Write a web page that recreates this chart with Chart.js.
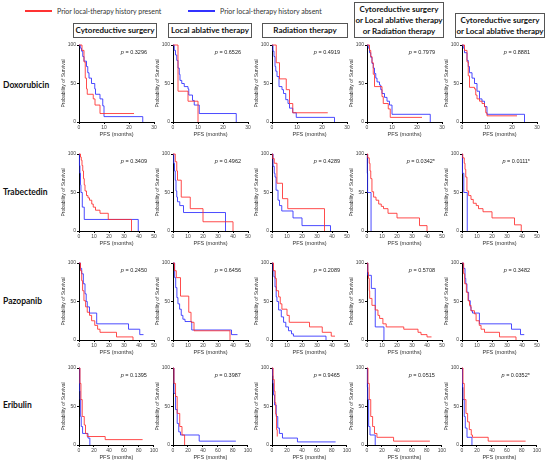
<!DOCTYPE html>
<html>
<head>
<meta charset="utf-8">
<script src="https://cdn.jsdelivr.net/npm/chart.js@4.4.1/dist/chart.umd.min.js"></script>
<style>
  body { margin: 0; background: #fff; }
  #wrap { position: relative; width: 550px; height: 462px; overflow: hidden; font-family: Lato, "Open Sans", sans-serif; color: #111; }
  .box { position: absolute; border: 1px solid #555; box-sizing: border-box; font-weight: 700; font-size: 8px; line-height: 11px;
         text-align: center; display: flex; align-items: center; justify-content: center; }
  .rowlab { position: absolute; left: 3px; font-weight: 700; font-size: 8.5px; line-height: 12px; }
  .leg { position: absolute; top: 6px; font-size: 7px; line-height: 10px; color: #333; }
  .legline { position: absolute; top: 10px; width: 27px; height: 1.5px; }
  canvas { position: absolute; }
</style>
</head>
<body>
<div id="wrap">
  <div class="legline" style="left:25px;background:#f33"></div>
  <div class="leg" style="left:57px">Prior local-therapy history present</div>
  <div class="legline" style="left:188px;background:#33f"></div>
  <div class="leg" style="left:220px">Prior local-therapy history absent</div>
</div>

<script>
// ********** DATA ***********
const drugs = ['Doxorubicin', 'Trabectedin', 'Pazopanib', 'Eribulin'];
const therapies = ['Cytoreductive surgery', 'Local ablative therapy', 'Radiation therapy',
  'Cytoreductive surgery<br>or Local ablative therapy<br>or Radiation therapy',
  'Cytoreductive surgery<br>or Local ablative therapy'];
const xMax = [30, 50, 50, 100];
const xStep = [10, 10, 10, 20];
const yTicks = [0, 50, 100];

const pDox = ['0.3296', '0.6526', '0.4919', '0.7979', '0.8881'];
const pTrb = ['0.3409', '0.4962', '0.4289', '0.0342*', '0.0111*'];
const pPaz = ['0.2450', '0.6456', '0.2089', '0.5708', '0.3482'];
const pEri = ['0.1395', '0.3987', '0.9465', '0.0515', '0.0352*'];

// [months, % surviving] — P = history present (red), A = absent (blue)
const doxCytoP = [[0,100],[1.2,93],[2,78],[2.5,57],[3,43],[3.3,36],[5.7,30],[6.4,22],[8.4,11],[22,11]];
const doxCytoA = [[0,100],[0.5,96],[1,92],[1.5,85],[2,79],[3,72],[3.5,64],[4,57],[5,50],[6.3,43],[6.6,36],[8.4,30],[9.5,21],[10,7],[25.5,0]];
const doxAblP = [[0,100],[2,40],[6,27],[10,0]];
const doxAblA = [[0,100],[0.5,93],[1,87],[1.5,80],[2,70],[2.5,62],[2.8,54],[3.5,50],[4.5,46],[6,43],[6.3,35],[7.8,28],[8.5,22],[10.5,11],[25.3,0]];
const doxRadP = [[0,100],[1.7,77],[3,56],[5.7,42],[7,24],[8.3,12],[22.3,12]];
const doxRadA = [[0,100],[0.4,92],[0.8,85],[1.2,72],[1.5,66],[2,59],[2.8,46],[4,42],[4.6,37],[5.5,29],[6.4,24],[7,18],[8.3,12],[9.7,6],[25,0]];
const doxCarP = [[0,100],[1,93],[1.5,85],[2,77],[2.5,62],[3,46],[6,33],[6.5,24],[8.5,17],[9.3,6],[22,6]];
const doxCarA = [[0,100],[0.5,96],[1,90],[1.5,84],[2,76],[2.5,70],[3,63],[3.5,57],[4,52],[5,48],[5.5,42],[6,37],[7,32],[8,27],[9,22],[10,10],[25.3,0]];
const doxCaP = [[0,100],[1,93],[2,78],[2.5,60],[3,45],[5,43],[5.5,35],[6,30],[7,27],[8,24],[9,20],[9.5,12],[10,8],[22,8]];
const doxCaA = [[0,100],[0.5,96],[1,90],[2,80],[2.5,72],[3,64],[4,57],[5,50],[6,40],[7,30],[8,27],[9,20],[10,10],[25,0]];

const trbCytoP = [[0,100],[1,96],[1.5,92],[2,85],[2.5,78],[3,68],[3.5,60],[4,52],[5,46],[6,43],[7,40],[8.5,35],[9.5,31],[11,27],[14,23],[19.5,15],[35,0]];
const trbCytoA = [[0,100],[0.3,85],[0.6,75],[1,60],[1.3,50],[2.2,31],[3.5,15],[39.5,0]];
const trbAblP = [[0,100],[1.5,90],[2.5,78],[3,66],[5.5,44],[11.5,29],[20,12],[40,0]];
const trbAblA = [[0,100],[0.5,88],[1,78],[1.5,66],[2,52],[2.5,44],[3,38],[4.5,33],[7,24],[35,0]];
const trbRadP = [[0,100],[0.5,94],[1.5,88],[3.3,62],[7,42],[10.5,29],[35,0]];
const trbRadA = [[0,100],[0.7,84],[1.5,75],[2,70],[2.7,53],[4,40],[5,33],[6.5,26],[14,17],[20,7],[39,0]];
const trbCarP = [[0,100],[0.5,95],[1.5,88],[2,78],[2.5,68],[3.3,51],[4.4,44],[6,40],[7.8,35],[9.5,32],[11,29],[14,23],[20,17],[35,7],[40,0]];
const trbCarA = [[0,100],[0.2,75],[0.4,50],[2.7,0]];
const trbCaP = [[0,100],[0.5,95],[1.5,88],[2,80],[2.5,70],[3.3,52],[4.4,46],[6,41],[7.5,36],[9.5,33],[11,29],[14,25],[20,17],[35,8],[39.5,0]];
const trbCaA = [[0,100],[0.3,75],[1.2,50],[3.5,0]];

const pazCytoP = [[0,100],[1,90],[1.8,77],[2.4,64],[3.3,51],[4.4,43],[5.5,36],[7,32],[8.4,25],[10.5,19],[12.4,14],[14,10],[25,4],[36,0]];
const pazCytoA = [[0,100],[1,93],[1.8,86],[2.9,73],[4,60],[4.8,50],[5.5,43],[7,35],[11.8,21],[33,14],[40.5,7],[43,7]];
const pazAblP = [[0,100],[1,90],[2.2,81],[5,57],[10.5,36],[12,23],[14,12],[38,0]];
const pazAblA = [[0,100],[1.1,81],[1.8,68],[2.6,55],[3.3,47],[4.4,40],[5.5,32],[6.6,27],[8,24],[12.5,13],[39,7],[43,7]];
const pazRadP = [[0,100],[1,90],[2.2,80],[2.9,64],[4.4,56],[5.5,47],[6.6,40],[10,32],[11.5,23],[25,17],[33.5,10],[39.5,5],[42,5]];
const pazRadA = [[0,100],[0.7,90],[1.3,82],[2,69],[2.8,56],[3.3,50],[4.4,39],[6.2,30],[7.7,23],[9.2,17],[11,12],[13,8],[14.3,5],[36,0]];
const pazCarP = [[0,100],[0.6,88],[1,80],[1.5,64],[1.8,54],[3.3,45],[5.5,39],[7.3,32],[8.4,28],[10.6,21],[12.8,17],[24.5,14],[34,10],[36,7],[40,4],[43,4]];
const pazCarA = [[0,100],[0.5,84],[2.9,67],[5.5,17],[11.3,0]];
const pazCaP = [[0,100],[1.1,86],[1.8,73],[2.9,62],[4,51],[5,45],[6,38],[8.3,34],[9.4,25],[11.5,19],[12.7,14],[15,10],[25,4],[36,0]];
const pazCaA = [[0,100],[1,93],[2,80],[2.5,73],[3.3,62],[4.4,51],[5.5,43],[6,38],[7,35],[11.6,21],[33,14],[39,7],[41.5,7]];

const eriCytoP = [[0,100],[1.3,80],[2.6,59],[4.3,37],[7,26],[8.7,15],[11,11],[35,7],[85,7]];
const eriCytoA = [[0,100],[1,70],[1.5,59],[2.2,37],[3,24],[4.8,15],[12,9],[14.5,0]];
const eriAblP = [[0,100],[1.3,80],[3.4,63],[5.6,41],[9,24],[12,13],[15.5,0]];
const eriAblA = [[0,100],[1.3,67],[3.4,46],[5.6,28],[7.7,17],[10,13],[35,5],[84,5]];
const eriRadP = [[0,100],[1.5,85],[3,70],[4,55],[5,40],[6,20],[7,11]];
const eriRadA = [[0,100],[0.8,90],[1.3,80],[2,65],[3.4,52],[5.6,37],[7.7,22],[9.9,15],[14,9],[34,4],[85,4]];
const eriCarP = [[0,100],[1.3,80],[3,59],[5,37],[7.5,24],[10,15],[13.3,10],[35.5,5],[84,5]];
const eriCarA = [[0,100],[0.5,75],[1,59],[2.2,24],[4,13],[11,0]];
const eriCaP = [[0,100],[1.3,80],[3,59],[5.3,41],[7.5,30],[9.8,20],[12.4,13],[14,10],[35,5],[85,5]];
const eriCaA = [[0,100],[0.7,75],[1.3,59],[3,37],[4.4,22],[6.7,10],[13.3,0]];

const pVals = [pDox, pTrb, pPaz, pEri];
const present = [
  [doxCytoP, doxAblP, doxRadP, doxCarP, doxCaP],
  [trbCytoP, trbAblP, trbRadP, trbCarP, trbCaP],
  [pazCytoP, pazAblP, pazRadP, pazCarP, pazCaP],
  [eriCytoP, eriAblP, eriRadP, eriCarP, eriCaP]
];
const absent = [
  [doxCytoA, doxAblA, doxRadA, doxCarA, doxCaA],
  [trbCytoA, trbAblA, trbRadA, trbCarA, trbCaA],
  [pazCytoA, pazAblA, pazRadA, pazCarA, pazCaA],
  [eriCytoA, eriAblA, eriRadA, eriCarA, eriCaA]
];

// ********** LAYOUT ***********
const wrap = document.getElementById('wrap');
const colX = [79, 173, 272, 367, 462];   // left of plot area
const rowY = [45, 154, 263, 368];        // top of plot area (100%)
const boxes = [[73, 23, 84, 15], [168, 23, 84, 15], [262, 23, 86, 15], [354, 2, 90, 36], [455, 13, 90, 25]];
const rowLabY = [79, 186, 295, 399];
const FONT = '"Liberation Sans", Arial, sans-serif';

boxes.forEach((b, i) => {
  let d = document.createElement('div');
  d.className = 'box';
  d.style.left = b[0] + 'px'; d.style.top = b[1] + 'px';
  d.style.width = b[2] + 'px'; d.style.height = b[3] + 'px';
  d.innerHTML = therapies[i];
  wrap.appendChild(d);
});
drugs.forEach((name, r) => {
  let d = document.createElement('div');
  d.className = 'rowlab';
  d.style.top = rowLabY[r] + 'px';
  d.textContent = name;
  wrap.appendChild(d);
});

// p value text in the top right of each plot
const pPlugin = {
  id: 'pval',
  afterDraw(chart, args, opts) {
    const {ctx, chartArea} = chart;
    ctx.save();
    ctx.fillStyle = '#222';
    ctx.textBaseline = 'middle';
    ctx.textAlign = 'right';
    ctx.font = '5.5px ' + FONT;
    const rest = ' = ' + opts.text;
    const w = ctx.measureText(rest).width;
    const xr = chartArea.right - 7, yy = chartArea.top + 7;
    ctx.fillText(rest, xr, yy);
    ctx.font = 'italic 5.5px ' + FONT;
    ctx.fillText('p', xr - w, yy);
    ctx.restore();
  }
};

function toXY(arr) {
  return arr.map(p => ({x: p[0], y: p[1]}));
}

function makePanel(r, c) {
  const cv = document.createElement('canvas');
  cv.width = 98; cv.height = 97;
  cv.style.left = (colX[c] - 18) + 'px';
  cv.style.top = (rowY[r] - 4) + 'px';
  cv.style.width = '98px'; cv.style.height = '97px';
  wrap.appendChild(cv);

  const line = (data, col) => ({
    data: toXY(data), borderColor: col, borderWidth: 1, stepped: true,
    pointRadius: 0, fill: false, clip: 3
  });

  new Chart(cv, {
    type: 'line',
    data: { datasets: [
      line(present[r][c], 'rgba(255,45,45,0.85)'),
      line(absent[r][c], 'rgba(45,45,255,0.85)')
    ]},
    options: {
      responsive: false, animation: false, devicePixelRatio: 1,
      layout: { padding: { left: 0, top: 4, right: 5, bottom: 0 } },
      plugins: { legend: { display: false }, tooltip: { enabled: false }, pval: { text: pVals[r][c] } },
      scales: {
        x: {
          type: 'linear', min: 0, max: xMax[r],
          ticks: { stepSize: xStep[r], font: { size: 5, family: FONT }, color: '#444', padding: 1, maxRotation: 0, autoSkip: false },
          grid: { drawOnChartArea: false, tickLength: 2, color: '#000' },
          border: { color: '#000', width: 1 },
          title: { display: true, text: 'PFS (months)', font: { size: 5.5, family: FONT }, color: '#333', padding: { top: 1, bottom: 0 } },
          afterFit: s => { s.height = 16; }
        },
        y: {
          min: 0, max: 100,
          afterBuildTicks: s => { s.ticks = yTicks.map(v => ({value: v})); },
          ticks: { font: { size: 5, family: FONT }, color: '#444', padding: 1 },
          grid: { drawOnChartArea: false, tickLength: 2, color: '#000' },
          border: { color: '#000', width: 1 },
          title: { display: true, text: 'Probability of Survival', font: { size: 5, family: FONT }, color: '#333', padding: { top: 0, bottom: 1 } },
          afterFit: s => { s.width = 18; }
        }
      }
    },
    plugins: [pPlugin]
  });
}

for (let r = 0; r < 4; r++) {
  for (let c = 0; c < 5; c++) makePanel(r, c);
}
</script>
</body>
</html>
